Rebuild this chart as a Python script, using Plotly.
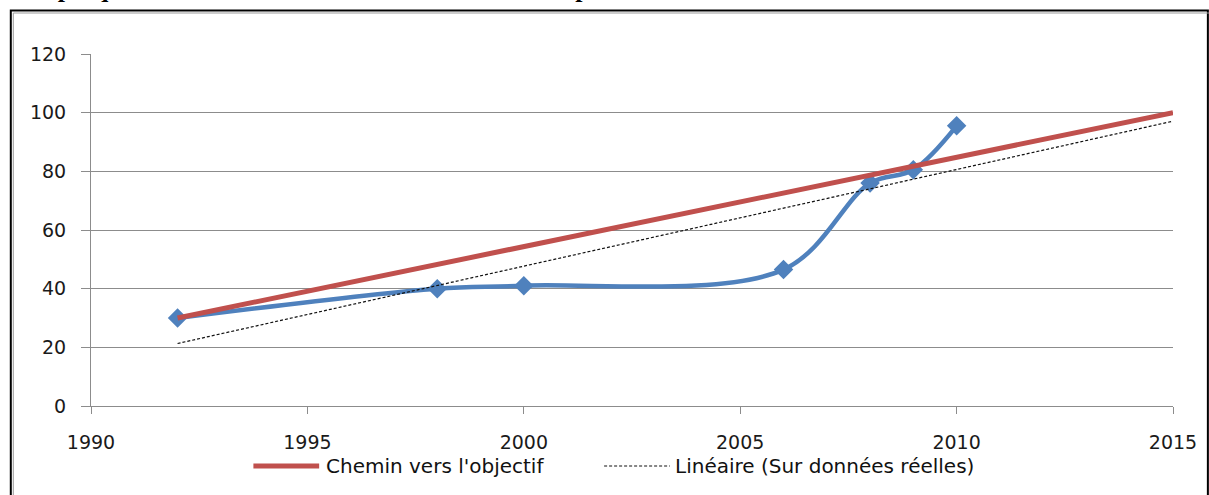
import numpy as np
import plotly.graph_objects as go

# Observed coverage (%) by year
years = [1992, 1998, 2000, 2006, 2008, 2009, 2010]
coverage = [30, 40, 41, 46.5, 76, 80.5, 95.5]

# Path to the 2015 target
target_years = [1992, 2015]
target_values = [30, 100]

x_ticks = [1990, 1995, 2000, 2005, 2010, 2015]
y_ticks = [0, 20, 40, 60, 80, 100, 120]

title_text = "Graphique 1 : évolution de la couverture des soins prénatals de 1992 à 2010"
legend_target = "Chemin vers l'objectif"
legend_trend = "Linéaire (Sur données réelles)"

# Linear trend fitted on the observed data
slope, intercept = np.polyfit(years, coverage, 1)
trend_x = [1992, 2015]
trend_y = [slope * x + intercept for x in trend_x]

W, H = 1209, 495
L, R, T, B = 91, 32, 54, 89
pw, ph = W - L - R, H - T - B


def px_x(p):
    return (p - L) / pw


def px_y(p):
    return (H - B - p) / ph


BLUE, RED = "#4F81BD", "#C0504D"
TREND_DASH = "3px,2px"

fig = go.Figure()

fig.add_trace(go.Scatter(
    x=years, y=coverage, mode="lines+markers",
    line=dict(color=BLUE, width=4.5, shape="spline", smoothing=1),
    marker=dict(symbol="diamond", size=15, color=BLUE),
    showlegend=False,
))
fig.add_trace(go.Scatter(
    x=target_years, y=target_values, mode="lines",
    line=dict(color=RED, width=5), showlegend=False,
))
fig.add_trace(go.Scatter(
    x=trend_x, y=trend_y, mode="lines",
    line=dict(color="#111111", width=1.2, dash=TREND_DASH), showlegend=False,
))

grid = "#8c8c8c"
tick_font = dict(family="DejaVu Sans", size=19, color="#1a1a1a")
fig.update_xaxes(
    range=[1990, 2015], tickvals=x_ticks, ticks="outside", ticklen=7,
    tickcolor=grid, showgrid=False, showline=True, linecolor=grid,
    linewidth=1, zeroline=False, ticklabelstandoff=12, tickfont=tick_font,
)
fig.update_yaxes(
    range=[0, 120], tickvals=y_ticks, ticks="outside", ticklen=9,
    tickcolor=grid, showgrid=True, gridcolor=grid, gridwidth=1,
    showline=True, linecolor=grid, linewidth=1, zeroline=False,
    ticklabelstandoff=11, tickfont=tick_font,
)

# Double frame around the chart
fig.add_shape(type="rect", xref="paper", yref="paper",
              x0=px_x(10.5), x1=px_x(1212), y0=px_y(530), y1=px_y(10.5),
              line=dict(color="#000000", width=2), layer="below")
fig.add_shape(type="rect", xref="paper", yref="paper",
              x0=px_x(13), x1=px_x(1215), y0=px_y(530), y1=px_y(13),
              line=dict(color="#9a9a9a", width=1), layer="below")

# Legend: line samples and labels
legend_y = px_y(466)
legend_font = dict(family="DejaVu Sans", size=20, color="#111111")
fig.add_shape(type="line", xref="paper", yref="paper",
              x0=px_x(254), x1=px_x(320), y0=legend_y, y1=legend_y,
              line=dict(color=RED, width=5))
fig.add_annotation(text=legend_target, xref="paper", yref="paper",
                   x=px_x(325), y=legend_y, xanchor="left", yanchor="middle",
                   showarrow=False, font=legend_font)
fig.add_shape(type="line", xref="paper", yref="paper",
              x0=px_x(606), x1=px_x(672), y0=legend_y, y1=legend_y,
              line=dict(color="#111111", width=1.2, dash=TREND_DASH))
fig.add_annotation(text=legend_trend, xref="paper", yref="paper",
                   x=px_x(675), y=legend_y, xanchor="left", yanchor="middle",
                   showarrow=False, font=legend_font)

fig.add_annotation(
    text="<b>" + title_text + "</b>", xref="paper", yref="paper",
    x=px_x(11), y=px_y(5), xanchor="left", yanchor="bottom",
    showarrow=False, font=dict(family="Liberation Serif", size=26, color="#000000"),
)

fig.update_layout(
    width=W, height=H,
    margin=dict(l=L, r=R, t=T, b=B),
    paper_bgcolor="white", plot_bgcolor="white",
    showlegend=False,
)

fig.write_html("out.html")
